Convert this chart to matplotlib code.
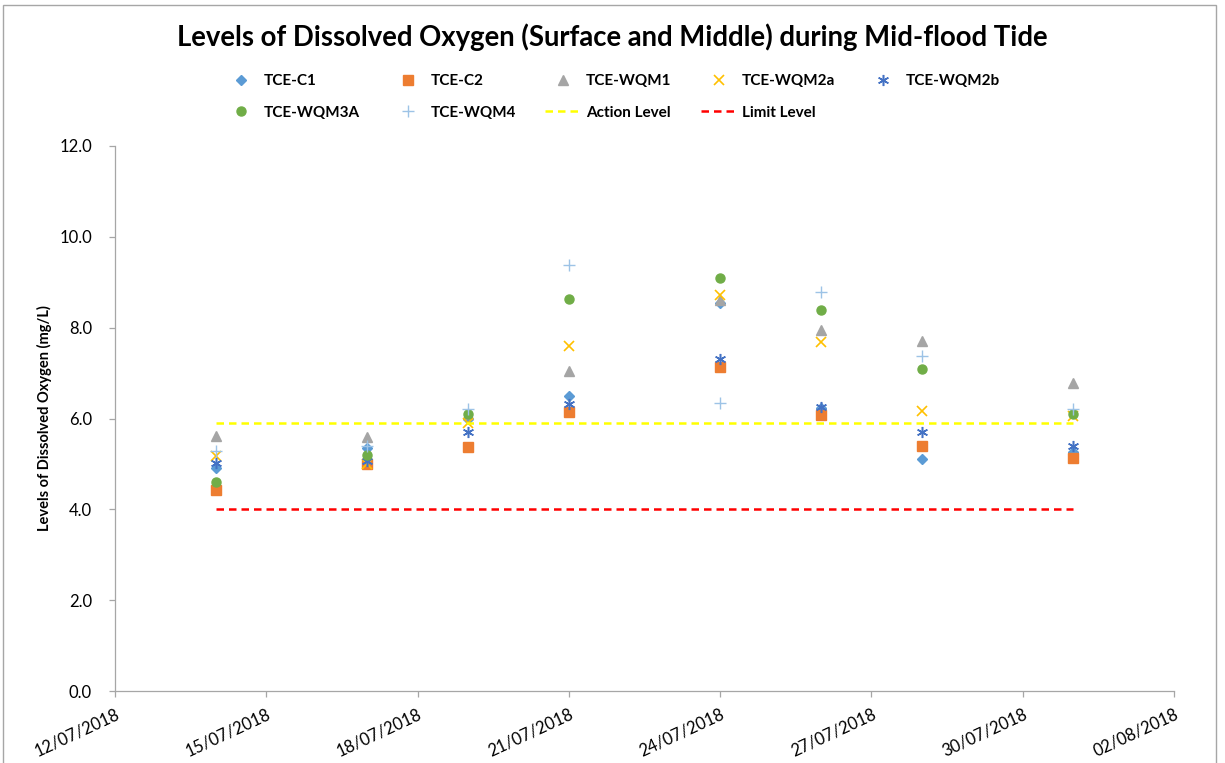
import datetime as dt
import matplotlib
matplotlib.use("Agg")
import matplotlib.pyplot as plt
import matplotlib.dates as mdates
from matplotlib.patches import Rectangle

plt.rcParams['font.family'] = ['Lato', 'DejaVu Sans']

# ── Data ─────────────────────────────────────────────────────────────────────
dates = ['14/07/2018', '17/07/2018', '19/07/2018', '21/07/2018',
         '24/07/2018', '26/07/2018', '28/07/2018', '31/07/2018']
c1    = [4.90, 5.35, 6.00, 6.50, 8.55, 6.24, 5.10, 5.26]
c2    = [4.42, 5.00, 5.38, 6.15, 7.14, 6.08, 5.40, 5.12]
wqm1  = [5.62, 5.59, 6.10, 7.05, 8.61, 7.95, 7.71, 6.79]
wqm2a = [5.18, 5.00, 5.90, 7.60, 8.73, 7.68, 6.17, 6.05]
wqm2b = [5.02, 5.07, 5.70, 6.33, 7.32, 6.26, 5.71, 5.39]
wqm3a = [4.60, 5.20, 6.11, 8.64, 9.10, 8.40, 7.09, 6.11]
wqm4  = [5.29, 5.40, 6.20, 9.39, 6.35, 8.79, 7.38, 6.20]
action_level = 5.9
limit_level = 4.0

x = [dt.datetime.strptime(d, '%d/%m/%Y') for d in dates]

# ── Figure ───────────────────────────────────────────────────────────────────
fig = plt.figure(figsize=(12.25, 7.63), dpi=100)
ax = fig.add_axes([115/1225, 72/763, (1174-115)/1225, (691-146)/763])

ms = 6.5
h_c1,    = ax.plot(x, c1, ls='none', marker='D', ms=5.5, color='#5B9BD5', label='TCE-C1')
h_c2,    = ax.plot(x, c2, ls='none', marker='s', ms=ms, color='#ED7D31', label='TCE-C2')
h_wqm1,  = ax.plot(x, wqm1, ls='none', marker='^', ms=7, color='#A5A5A5', label='TCE-WQM1')
h_wqm2a, = ax.plot(x, wqm2a, ls='none', marker='x', ms=7.5, mew=1.2, color='#FFC000', label='TCE-WQM2a')
h_wqm2b, = ax.plot(x, wqm2b, ls='none', marker=(6, 2, 0), ms=8, mew=1.1, color='#4472C4', label='TCE-WQM2b')
h_wqm3a, = ax.plot(x, wqm3a, ls='none', marker='o', ms=ms, color='#70AD47', label='TCE-WQM3A')
h_wqm4,  = ax.plot(x, wqm4, ls='none', marker='+', ms=8, mew=1.0, color='#9DC3E6', label='TCE-WQM4')
h_act,   = ax.plot([x[0], x[-1]], [action_level, action_level], color='#FFFF00',
                   lw=1.8, dashes=(3, 2), label='Action Level')
h_lim,   = ax.plot([x[0], x[-1]], [limit_level, limit_level], color='#FF0000',
                   lw=1.8, dashes=(3, 2), label='Limit Level')

ax.set_xlim(dt.datetime(2018, 7, 12), dt.datetime(2018, 8, 2))
ax.set_ylim(0, 12)
ax.set_yticks([0, 2, 4, 6, 8, 10, 12])
ax.yaxis.set_major_formatter(matplotlib.ticker.FormatStrFormatter('%.1f'))
ax.set_xticks([mdates.date2num(dt.datetime(2018, 7, 12) + dt.timedelta(days=3*i)) for i in range(8)])
ax.xaxis.set_major_formatter(mdates.DateFormatter('%d/%m/%Y'))

for s in ['top', 'right']:
    ax.spines[s].set_visible(False)
for s in ['left', 'bottom']:
    ax.spines[s].set_color('#A6A6A6')
    ax.spines[s].set_linewidth(0.9)
ax.tick_params(axis='both', colors='#A6A6A6', length=4.5, width=0.9, labelcolor='black',
               labelsize=12)
ax.tick_params(axis='y', pad=12)
ax.tick_params(axis='x', pad=6)
for lab in ax.get_xticklabels():
    lab.set_rotation(25)
    lab.set_ha('right')
    lab.set_rotation_mode('anchor')

ax.set_ylabel('Levels of Dissolved Oxygen (mg/L)', fontsize=10.5, fontweight='bold', labelpad=5)

fig.text(0.5, 1 - 37/763, 'Levels of Dissolved Oxygen (Surface and Middle) during Mid-flood Tide',
         ha='center', va='center', fontsize=19.8, fontweight='bold')

# legend, Excel-style row-major order
handles = [h_c1, h_wqm3a, h_c2, h_wqm4, h_wqm1, h_act, h_wqm2a, h_lim, h_wqm2b]
fig.legend(handles=handles, labels=[h.get_label() for h in handles],
           loc='center', bbox_to_anchor=(0.499, 1 - 97/763), ncol=5, frameon=False,
           prop={'weight': 'bold', 'size': 11}, handlelength=2.4, handletextpad=0.3,
           columnspacing=1.9, labelspacing=1.15, numpoints=1)

# outer chart border
fig.patches.append(Rectangle((3/1225, -0.02), (1216-3)/1225, 1.02 - 5/763,
                             transform=fig.transFigure, fill=False,
                             edgecolor='#A6A6A6', lw=1.0))

fig.savefig('out.png', dpi=100)
